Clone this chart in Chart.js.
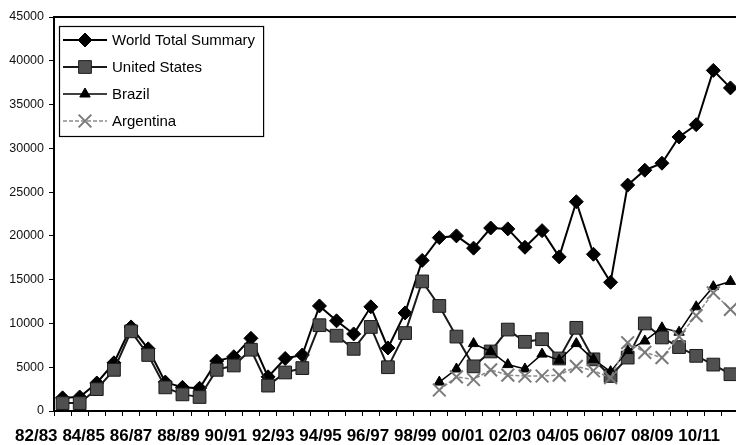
<!DOCTYPE html>
<html>
<head>
<meta charset="utf-8">
<script src="https://cdn.jsdelivr.net/npm/chart.js@4.4.1/dist/chart.umd.min.js"></script>
<style>
  html, body { margin: 0; padding: 0; overflow: hidden; background: #fff; width: 736px; height: 445px; }
  #wrap { position: absolute; left: 0; top: 0; width: 736px; height: 445px; overflow: hidden; }
  #chart { display: block; }
  #seasons {
    position: absolute; left: 15px; width: 705px; top: 427px;
    display: flex; justify-content: space-between;
    font: bold 17px "Liberation Sans", Arial, sans-serif; line-height: 17px; color: #000;
  }
</style>
</head>
<body>
<div id="wrap"><canvas id="chart" width="750" height="445"></canvas></div>
<div id="seasons"></div>
<script>
// Season labels printed under the axis (every other marketing year)
const seasonLabels = ['82/83', '84/85', '86/87', '88/89', '90/91', '92/93', '94/95', '96/97',
                      '98/99', '00/01', '02/03', '04/05', '06/07', '08/09', '10/11'];

// Exports, 1000 metric tons, one value per marketing year
const worldTotal = [1500, 1600, 3200, 5500, 9600, 7100, 3300, 2700, 2600, 5700,
                    6200, 8300, 3900, 6000, 6400, 12000, 10300, 8800, 11900, 7200,
                    11200, 17200, 19800, 20000, 18600, 20900, 20800, 18700, 20600, 17600,
                    23900, 17900, 14700, 25800, 27500, 28300, 31300, 32700, 38900, 36900];
const unitedStates = [900, 900, 2500, 4700, 9100, 6400, 2700, 1900, 1600, 4700,
                      5200, 7000, 2900, 4400, 4900, 9800, 8600, 7100, 9600, 5000,
                      8900, 14800, 12000, 8500, 5100, 6800, 9300, 7900, 8200, 6000,
                      9500, 5900, 4000, 6100, 10000, 8400, 7300, 6300, 5300, 4200];
const brazil = [null, null, null, null, null, null, null, null, null, null,
                null, null, null, null, null, null, null, null, null, null,
                null, null, 3300, 4800, 7700, 6800, 5300, 4800, 6500, 5800,
                7700, 5900, 4500, 6900, 8000, 9500, 9000, 11900, 14200, 14800];
const argentina = [null, null, null, null, null, null, null, null, null, null,
                   null, null, null, null, null, null, null, null, null, null,
                   null, null, 2400, 3900, 3600, 4700, 4100, 4000, 4000, 4100,
                   5100, 4600, 3800, 7800, 6700, 6100, 8500, 10900, 13500, 11600];

// One category per marketing year
const categories = worldTotal.map((_, i) => String(i + 1));

const yMax = 45000;
const yStep = 5000;

// Season row under the chart
const seasonsEl = document.getElementById('seasons');
seasonLabels.forEach(s => {
  const span = document.createElement('span');
  span.textContent = s;
  seasonsEl.appendChild(span);
});

// Marker shapes used in the boxed legend
function drawMarker(ctx, ds, x, y) {
  ctx.save();
  ctx.fillStyle = ds.pointBackgroundColor;
  ctx.strokeStyle = ds.pointBorderColor;
  ctx.lineWidth = ds.pointBorderWidth;
  ctx.setLineDash([]);
  const r = ds.pointRadius;
  ctx.beginPath();
  if (ds.pointStyle === 'rectRot') {
    ctx.moveTo(x, y - r); ctx.lineTo(x + r, y); ctx.lineTo(x, y + r); ctx.lineTo(x - r, y);
    ctx.closePath(); ctx.fill(); ctx.stroke();
  } else if (ds.pointStyle === 'rect') {
    const h = r * Math.SQRT1_2;
    ctx.rect(x - h, y - h, 2 * h, 2 * h); ctx.fill(); ctx.stroke();
  } else if (ds.pointStyle === 'triangle') {
    const h = r * 1.5;
    ctx.moveTo(x, y - r); ctx.lineTo(x + h / Math.sqrt(3), y + r / 2); ctx.lineTo(x - h / Math.sqrt(3), y + r / 2);
    ctx.closePath(); ctx.fill(); ctx.stroke();
  } else if (ds.pointStyle === 'crossRot') {
    const d = r * Math.SQRT1_2;
    ctx.moveTo(x - d, y - d); ctx.lineTo(x + d, y + d);
    ctx.moveTo(x + d, y - d); ctx.lineTo(x - d, y + d);
    ctx.stroke();
  }
  ctx.restore();
}

// Top edge of the plot frame and a boxed legend in the upper left of the plot
const frameAndLegend = {
  id: 'frameAndLegend',
  afterDatasetsDraw(chart) {
    const ctx = chart.ctx;
    const a = chart.chartArea;
    ctx.save();
    ctx.strokeStyle = '#000';
    ctx.lineWidth = 2;
    ctx.beginPath();
    ctx.moveTo(a.left - 1, a.top);
    ctx.lineTo(a.right, a.top);
    ctx.stroke();

    const dsets = chart.data.datasets;
    const font = '15px "Liberation Sans", Arial, sans-serif';
    ctx.font = font;
    const boxX = a.left + 5, boxY = a.top + 9;
    const rowH = 27, lineLen = 44, textGap = 5, padX = 4, padY = 13;
    const textW = Math.max(...dsets.map(d => ctx.measureText(d.label).width));
    const boxW = padX + lineLen + textGap + textW + 8;
    const boxH = padY * 2 + rowH * (dsets.length - 1) + 3;
    ctx.fillStyle = '#fff';
    ctx.fillRect(boxX, boxY, boxW, boxH);
    ctx.lineWidth = 1.2;
    ctx.strokeStyle = '#000';
    ctx.strokeRect(boxX + 0.5, boxY + 0.5, boxW, boxH);

    dsets.forEach((d, i) => {
      const y = boxY + padY + 1 + i * rowH;
      const x0 = boxX + padX;
      ctx.save();
      ctx.strokeStyle = d.borderColor;
      ctx.lineWidth = d.borderWidth;
      ctx.setLineDash(d.borderDash || []);
      ctx.beginPath();
      ctx.moveTo(x0, y);
      ctx.lineTo(x0 + lineLen, y);
      ctx.stroke();
      ctx.restore();
      drawMarker(ctx, d, x0 + lineLen / 2, y);
      ctx.fillStyle = '#000';
      ctx.font = font;
      ctx.textBaseline = 'middle';
      ctx.textAlign = 'left';
      ctx.fillText(d.label, x0 + lineLen + textGap, y + 1);
    });
    ctx.restore();
  }
};

new Chart(document.getElementById('chart'), {
  type: 'line',
  data: {
    labels: categories,
    datasets: [
      {
        label: 'World Total Summary', data: worldTotal, order: 3,
        borderColor: '#000', borderWidth: 2,
        pointStyle: 'rectRot', pointRadius: 7,
        pointBackgroundColor: '#000', pointBorderColor: '#000', pointBorderWidth: 1
      },
      {
        label: 'United States', data: unitedStates, order: 2,
        borderColor: '#1a1a1a', borderWidth: 2,
        pointStyle: 'rect', pointRadius: 9,
        pointBackgroundColor: '#505050', pointBorderColor: '#1a1a1a', pointBorderWidth: 1
      },
      {
        label: 'Brazil', data: brazil, order: 1,
        borderColor: '#000', borderWidth: 1.5,
        pointStyle: 'triangle', pointRadius: 6,
        pointBackgroundColor: '#000', pointBorderColor: '#000', pointBorderWidth: 1
      },
      {
        label: 'Argentina', data: argentina, order: 0,
        borderColor: '#8c8c8c', borderWidth: 1.5, borderDash: [4, 2],
        pointStyle: 'crossRot', pointRadius: 9,
        pointBackgroundColor: '#7a7a7a', pointBorderColor: '#7a7a7a', pointBorderWidth: 2
      }
    ]
  },
  options: {
    responsive: false,
    maintainAspectRatio: false,
    devicePixelRatio: 1,
    animation: false,
    events: [],
    layout: { padding: { left: 0, right: 9, top: 17, bottom: 29 } },
    elements: { line: { tension: 0 } },
    plugins: { legend: { display: false }, tooltip: { enabled: false } },
    scales: {
      x: {
        type: 'category',
        offset: true,
        grid: { offset: true, drawOnChartArea: false, drawTicks: true, tickLength: 5, color: '#000', lineWidth: 1 },
        border: { display: true, color: '#000', width: 2 },
        ticks: { display: false }
      },
      y: {
        min: 0, max: yMax,
        afterFit(scale) { scale.width = 54; },
        grid: { drawOnChartArea: false, drawTicks: true, tickLength: 5, color: '#000', lineWidth: 1 },
        border: { display: true, color: '#000', width: 2 },
        ticks: {
          stepSize: yStep, padding: 5, color: '#111',
          font: { family: '"Liberation Sans", Arial, sans-serif', size: 12.5 },
          callback: v => String(v)
        }
      }
    }
  },
  plugins: [frameAndLegend]
});
</script>
</body>
</html>
